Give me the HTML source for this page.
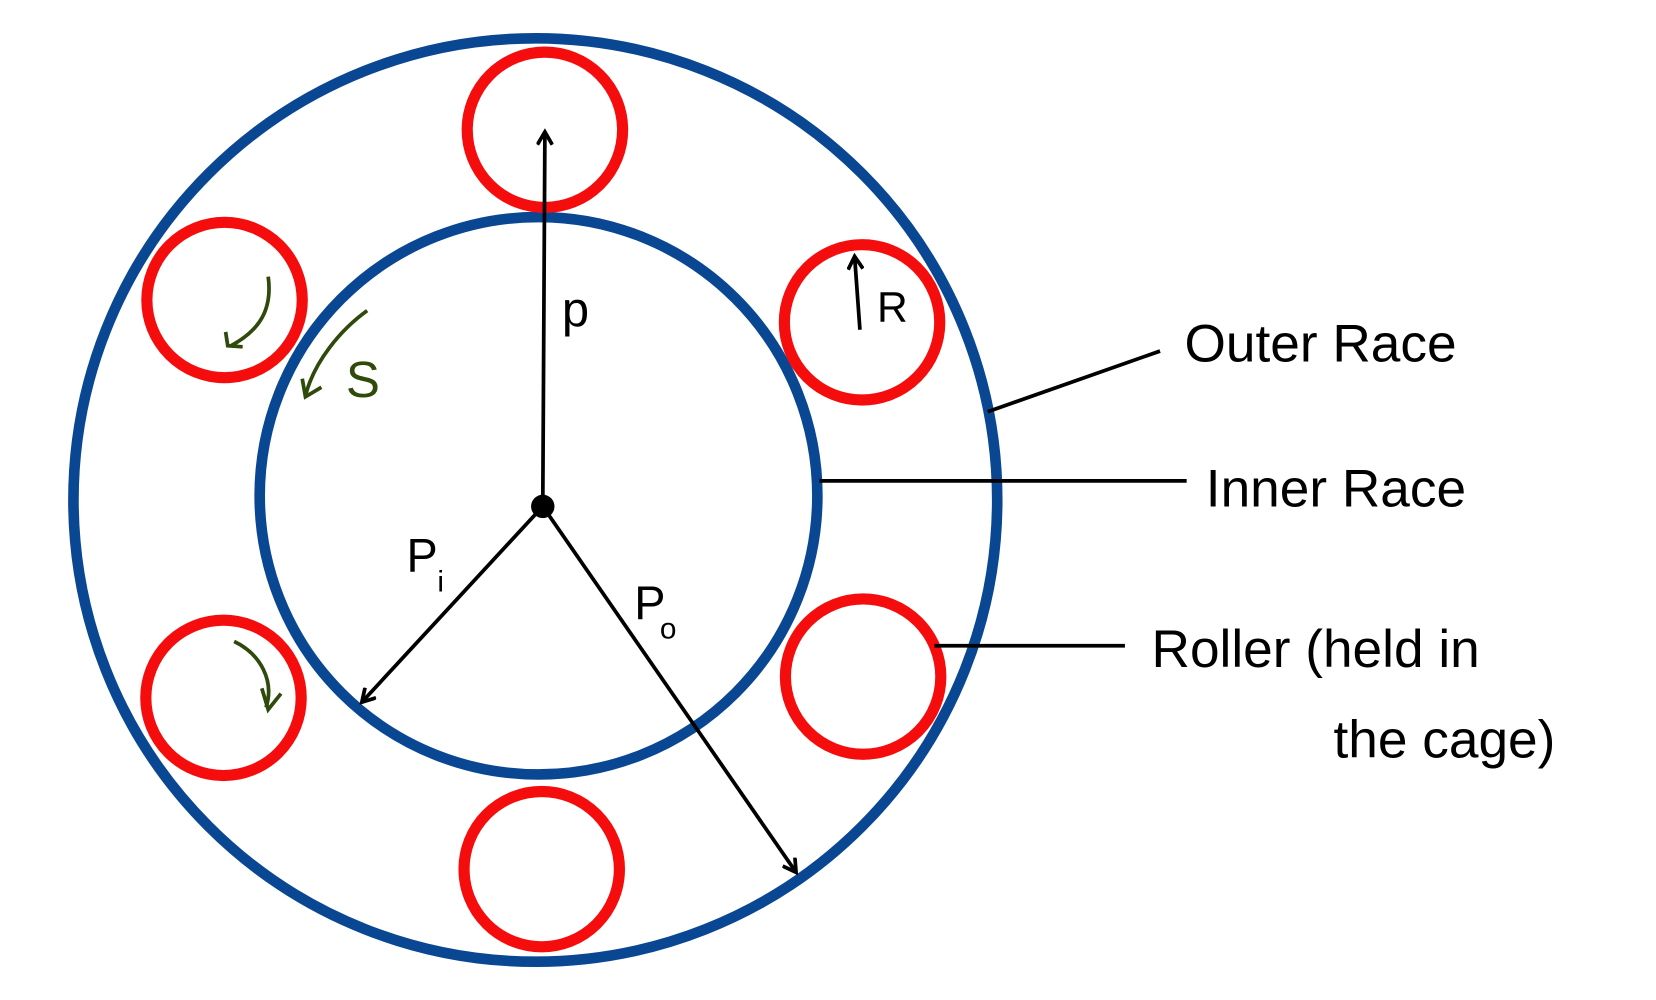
<!DOCTYPE html>
<html><head><meta charset="utf-8"><style>
html,body{margin:0;padding:0;background:#fff;width:1656px;height:1000px;overflow:hidden}
svg{display:block}
text{font-family:"Liberation Sans",sans-serif;fill:#000}
</style></head><body>
<svg width="1656" height="1000" viewBox="0 0 1556 940" preserveAspectRatio="none">
<defs>
<marker id="a" markerWidth="16" markerHeight="16" refX="13" refY="8" orient="auto" markerUnits="userSpaceOnUse">
<path d="M1,1 L13,8 L1,15" fill="none" stroke="#000" stroke-width="3.5"/>
</marker>
</defs>
<circle cx="503" cy="470" r="434" fill="none" stroke="#0a4792" stroke-width="10"/>
<circle cx="506" cy="466" r="262" fill="none" stroke="#0a4792" stroke-width="10"/>
<g fill="none" stroke="#f50d0d" stroke-width="10.5">
<circle cx="512" cy="122" r="73"/>
<circle cx="211" cy="282" r="73"/>
<circle cx="810" cy="303" r="73"/>
<circle cx="811" cy="636" r="73"/>
<circle cx="210" cy="656" r="73"/>
<circle cx="509" cy="817" r="73"/>
</g>
<g stroke="#000" stroke-width="3.5" fill="none">
<line x1="510" y1="476" x2="512" y2="124" marker-end="url(#a)"/>
<line x1="510" y1="476" x2="340" y2="660" marker-end="url(#a)"/>
<line x1="510" y1="476" x2="748" y2="820" marker-end="url(#a)"/>
<line x1="808" y1="310" x2="803" y2="241" marker-end="url(#a)"/>
<line x1="928" y1="387" x2="1090" y2="330"/>
<line x1="770" y1="452" x2="1115" y2="452"/>
<line x1="878" y1="607" x2="1057" y2="607"/>
</g>
<circle cx="510" cy="476" r="11" fill="#000"/>
<g stroke="#2f4a0a" stroke-width="3.5" fill="none">
<path d="M252,260 C256,290 245,310 217,325"/><path d="M212,312 L214,325 L228,326"/>
<path d="M345,292 C320,310 295,340 287,372"/><path d="M284,356 L287,373 L302,364"/>
<path d="M220,603 C245,615 258,640 250,665"/><path d="M246,647 L252,667 L264,652"/>
</g>
<text x="325" y="373" font-size="48" style="fill:#2f4a0a">S</text>
<text x="528" y="307" font-size="46">p</text>
<text x="824" y="302" font-size="40">R</text>
<text x="382" y="537" font-size="44">P</text><text x="411" y="556" font-size="28">i</text>
<text x="596" y="582" font-size="44">P</text><text x="620" y="600" font-size="28">o</text>
<text x="1113" y="340" font-size="50">Outer Race</text>
<text x="1133" y="476" font-size="50">Inner Race</text>
<text x="1082" y="627" font-size="50">Roller  (held in</text>
<text x="1253" y="712" font-size="50">the cage)</text>
</svg>
</body></html>
